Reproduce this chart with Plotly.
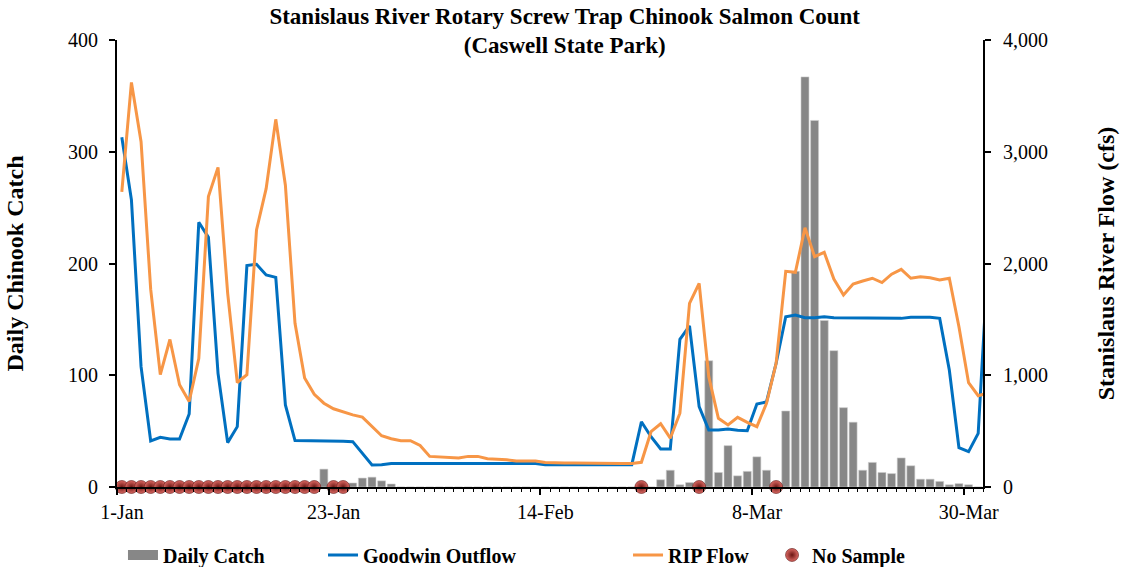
import plotly.graph_objects as go
import pandas as pd

# ---------------- data (one value per day, 1-Jan .. 1-Apr 2021) ----------------
start_date = "2021-01-01"
n_days = 91

rip_flow = [2640, 3620, 3090, 1770, 1005, 1320, 915, 765, 1150, 2600,
            2860, 1735, 935, 1005, 2300, 2670, 3290, 2700, 1465, 975,
            830, 750, 700, 670, 645, 625, 540, 459, 432, 414,
            414, 372, 274, 268, 268, 259, 274, 274, 253, 250,
            244, 232, 232, 232, 220, 214, 214, 214, 212, 210,
            210, 210, 210, 210, 221, 495, 566, 437, 660, 1644,
            1823, 987, 615, 555, 623, 579, 540, 749, 1107, 1930,
            1921, 2320, 2061, 2100, 1861, 1718, 1817, 1843, 1868, 1829,
            1904, 1948, 1868, 1882, 1873, 1852, 1868, 1434, 934, 817,
            840]

goodwin_outflow = [3130, 2570, 1077, 412, 445, 430, 430, 653, 2369, 2234,
                   1017, 397, 540, 1981, 1993, 1897, 1876, 734, 415, 415,
                   415, 412, 410, 410, 406, 300, 197, 200, 210, 210,
                   210, 210, 210, 210, 210, 210, 210, 210, 210, 210,
                   210, 210, 210, 210, 200, 200, 200, 200, 200, 200,
                   200, 200, 200, 200, 584, 450, 340, 340, 1322, 1441,
                   719, 510, 510, 518, 507, 504, 743, 761, 1107, 1524,
                   1539, 1515, 1515, 1524, 1515, 1515, 1515, 1515, 1509, 1509,
                   1509, 1509, 1518, 1518, 1518, 1509, 1047, 352, 316, 480,
                   2000]

N = None
daily_catch = [N, N, N, N, N, N, N, N, N, N,
               N, N, N, N, N, N, N, N, N, N,
               N, 16, N, N, 3.6, 8, 8.8, 5.5, 2.7, 0,
               0, 0, 0, 0, 0, 0, 0, 0, 0, 0,
               0, 0, 0, 0, 0, 0, 0, 0, 0, 0,
               0, 0, 0, 0, N, 0, 6.5, 15, 2, 4,
               N, 113, 13, 37, 10, 14, 27, 15, N, 68,
               193, 367, 328, 149, 122, 71, 58, 15, 22, 13,
               12, 26, 19, 7, 7, 5, 2, 3, 2, 0,
               N]

# day numbers (0 = 1-Jan) with no sample taken
no_sample_days = [0, 1, 2, 3, 4, 5, 6, 7, 8, 9, 10, 11, 12, 13, 14, 15,
                  16, 17, 18, 19, 20, 22, 23, 54, 60, 68]

tick_labels = ["1-Jan", "23-Jan", "14-Feb", "8-Mar", "30-Mar"]
tick_days = [0, 22, 44, 66, 88]

title_text = ("<b>Stanislaus River Rotary Screw Trap Chinook Salmon Count</b><br>"
              "<b>(Caswell State Park)</b>")

# ---------------- derived ----------------
dates = pd.date_range(start_date, periods=n_days, freq="D")
half_day = pd.Timedelta(hours=12)
ns_dates = [dates[d] for d in no_sample_days]
ns_vals = [0] * len(no_sample_days)
tick_pos = [dates[d] - half_day for d in tick_days]

FONT = "Liberation Serif"
GRAY = "#878787"
BLUE = "#0070C0"
ORANGE = "#F79646"

fig = go.Figure()

fig.add_trace(go.Bar(
    x=dates, y=daily_catch, name="Daily Catch", showlegend=False,
    marker=dict(color=GRAY, line=dict(color="#cfcfcf", width=0.6)),
    yaxis="y",
))
fig.add_trace(go.Scatter(
    x=dates, y=goodwin_outflow, name="Goodwin Outflow", mode="lines",
    line=dict(color=BLUE, width=3), yaxis="y2", legend="legend2",
))
fig.add_trace(go.Scatter(
    x=dates, y=rip_flow, name="RIP Flow", mode="lines",
    line=dict(color=ORANGE, width=3), yaxis="y2", legend="legend3",
))
fig.add_trace(go.Scatter(
    x=ns_dates, y=ns_vals, name="No Sample", mode="markers",
    marker=dict(size=13, color="#dc6a64",
                gradient=dict(type="radial", color="#6a1512"),
                line=dict(width=0.6, color="#5a1210")),
    cliponaxis=False, yaxis="y", legend="legend4",
))
# legend swatch for the bars (wide rectangle like the original)
fig.add_trace(go.Scatter(
    x=[None], y=[None], name="Daily Catch", mode="lines",
    line=dict(color=GRAY, width=11), yaxis="y", legend="legend",
))

leg_y = -0.152
leg_common = dict(orientation="h", yanchor="middle", y=leg_y, xanchor="left",
                  font=dict(family=FONT, size=20, color="black", weight="bold"),
                  bgcolor="rgba(0,0,0,0)", borderwidth=0)

fig.update_layout(
    width=1121, height=567,
    margin=dict(l=117, r=138, t=40, b=80, autoexpand=False),
    paper_bgcolor="white", plot_bgcolor="white",
    font=dict(family=FONT, size=20, color="black"),
    title=dict(text=title_text, x=0.517, xref="paper", xanchor="center",
               y=0.9585, yref="container", yanchor="top",
               font=dict(family=FONT, size=23, color="black")),
    bargap=0.17,
    showlegend=True,
    legend=dict(x=0.0069, **leg_common),
    legend2=dict(x=0.2379, **leg_common),
    legend3=dict(x=0.5901, **leg_common),
    legend4=dict(x=0.7564, **leg_common),
    xaxis=dict(
        type="date",
        range=[dates[0] - half_day, dates[89] + half_day],
        tickvals=tick_pos, ticktext=tick_labels,
        ticklabelshift=5, ticklabelstandoff=0,
        ticks="outside", ticklen=6, tickwidth=1.5, tickcolor="black",
        minor=dict(ticks="outside", ticklen=3.5, tickwidth=1.2,
                   tickcolor="black", dtick=86400000,
                   tick0=dates[0] - half_day, showgrid=False),
        showline=True, linecolor="black", linewidth=1.8,
        showgrid=False, zeroline=False, automargin=False,
        tickfont=dict(family=FONT, size=20, color="black"),
    ),
    yaxis=dict(
        range=[0, 400], tickvals=[0, 100, 200, 300, 400],
        ticks="outside", ticklen=6, tickwidth=1.5, tickcolor="black",
        ticklabelstandoff=7,
        showline=True, linecolor="black", linewidth=1.8,
        showgrid=False, zeroline=False, automargin=False,
        tickfont=dict(family=FONT, size=20, color="black"),
        title=dict(text="<b>Daily Chinook Catch</b>", standoff=38,
                   font=dict(family=FONT, size=24, color="black")),
    ),
    yaxis2=dict(
        overlaying="y", side="right", anchor="x",
        range=[0, 4000], tickvals=[0, 1000, 2000, 3000, 4000],
        tickformat=",", ticks="outside", ticklen=6, tickwidth=1.5,
        tickcolor="black", ticklabelstandoff=8,
        showline=True, linecolor="black", linewidth=1.8,
        showgrid=False, zeroline=False, automargin=False,
        tickfont=dict(family=FONT, size=20, color="black"),
        title=dict(text="<b>Stanislaus River Flow (cfs)</b>", standoff=50,
                   font=dict(family=FONT, size=24, color="black")),
    ),
)

# remove the browser's default 8px page margin so the figure fills the window
fig.write_html("out.html",
               config={"displayModeBar": False},
               post_script="document.body.style.margin='0';")
